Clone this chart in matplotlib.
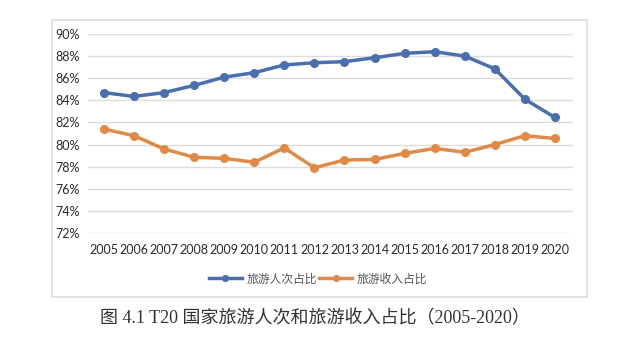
import matplotlib
matplotlib.use("Agg")
import matplotlib.pyplot as plt
from matplotlib.patches import Rectangle

plt.rcParams['font.family'] = ['Lato', 'Noto Sans CJK SC', 'DejaVu Sans']

years = [str(y) for y in range(2005, 2021)]
visitor_share = [84.7, 84.35, 84.7, 85.35, 86.1, 86.5, 87.2, 87.4, 87.5, 87.85,
                 88.25, 88.4, 88.0, 86.85, 84.1, 82.45]
revenue_share = [81.4, 80.8, 79.6, 78.85, 78.75, 78.4, 79.7, 77.9, 78.6, 78.65,
                 79.2, 79.65, 79.3, 80.0, 80.8, 80.55]
y_ticks = list(range(72, 91, 2))
series_names = ['旅游人次占比', '旅游收入占比']
caption = '图 4.1 T20 国家旅游人次和旅游收入占比（2005-2020）'

W, H = 640, 346
fig = plt.figure(figsize=(W / 100, H / 100), dpi=100)
fig.patch.set_facecolor('white')

# outer chart frame
fig.patches.append(Rectangle((52 / W, 1 - 297 / H), 535 / W, 277 / H,
                             transform=fig.transFigure, fill=False,
                             edgecolor='#dedede', linewidth=1.2))

ax = fig.add_axes([88 / W, 1 - 233 / H, 485 / W, 199 / H])
x = list(range(len(years)))
blue = '#4a6fae'
orange = '#e08a48'
ax.plot(x, visitor_share, color=blue, lw=2.5, marker='o', ms=5.5, label=series_names[0], zorder=3)
ax.plot(x, revenue_share, color=orange, lw=2.5, marker='o', ms=5.5, label=series_names[1], zorder=3)

ax.set_xlim(-0.53, len(years) - 1 + 0.6)
ax.set_ylim(72, 90)
ax.set_yticks(y_ticks)
ax.set_yticklabels([f'{v}%' for v in y_ticks])
ax.set_xticks(x)
ax.set_xticklabels(years)
ax.grid(axis='y', color='#dcdcdc', lw=1.0)
ax.set_axisbelow(True)
for s in ax.spines.values():
    s.set_visible(False)
ax.tick_params(length=0, labelsize=9, colors='#2b2b2b')
ax.tick_params(axis='x', pad=8)
ax.tick_params(axis='y', pad=6)

fig.legend(loc='center', bbox_to_anchor=(318 / W, 1 - 279 / H), ncol=2,
           frameon=False, handlelength=2.8, columnspacing=0.2,
           handletextpad=0.4, labelcolor='#555555', markerscale=0.75,
           prop={'family': ['Noto Sans CJK SC'], 'size': 8.5})

fig.text(315 / W, 1 - 319 / H, caption, ha='center', va='center',
         fontsize=13, color='#333333',
         family=['Liberation Serif', 'Noto Sans CJK SC', 'DejaVu Sans'])

fig.savefig('out.png', dpi=100)
